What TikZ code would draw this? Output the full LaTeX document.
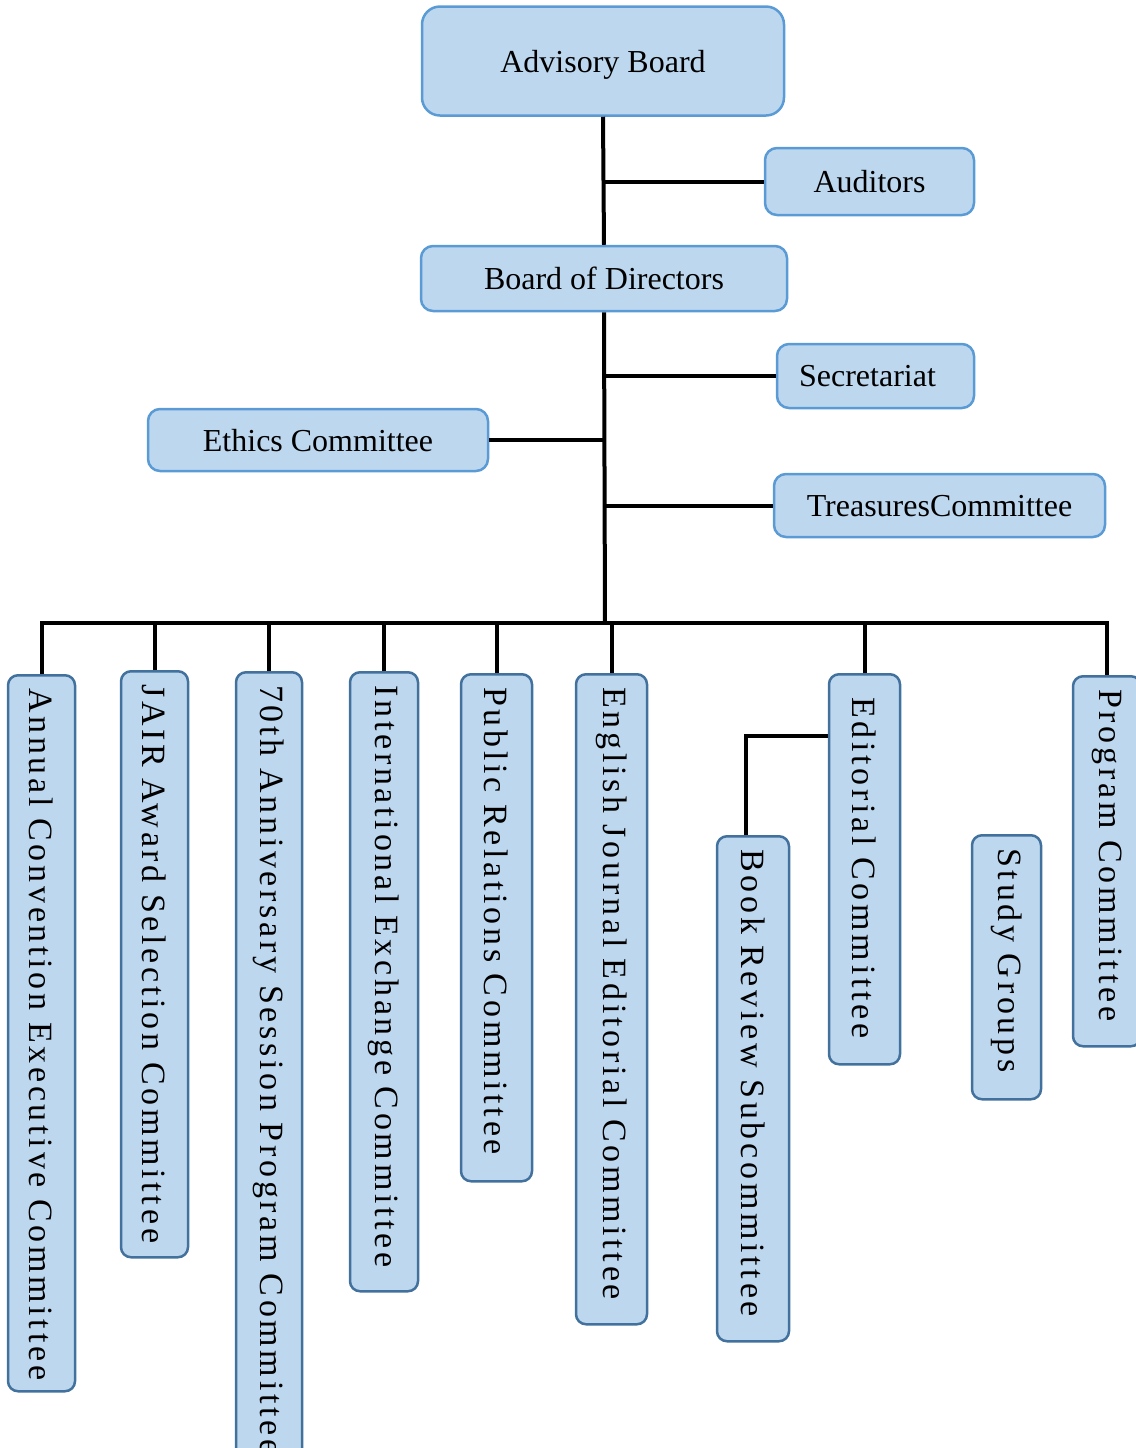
\documentclass[tikz,border=0pt]{standalone}
\usepackage{fontspec}
\setmainfont{Liberation Serif}
\newfontfamily\spacedserif[LetterSpace=11]{Liberation Serif}
\definecolor{boxfill}{HTML}{BDD7EE}
\definecolor{topline}{HTML}{5B9BD5}
\definecolor{sideline}{HTML}{41719C}

\begin{document}
\begin{tikzpicture}[
        x=0.5pt, y=-0.5pt,
        hbox/.style={draw=topline, fill=boxfill, line width=1.25pt, rounded corners=6pt, inner sep=0pt, text depth=0pt, font=\fontsize{16}{19}\selectfont},
        vbox/.style={draw=sideline, fill=boxfill, line width=1.25pt, rounded corners=5pt, rotate=-90, anchor=west, inner xsep=6.5pt, inner ysep=0pt, align=left, font=\spacedserif\fontsize{17}{20}\selectfont},
        link/.style={line width=2pt}
    ]
    \useasboundingbox (0,0) rectangle (1136,1448);

    % upper part
    \node[hbox, rounded corners=9pt, minimum width=181pt, minimum height=54.5pt] (adv) at (603,61) {Advisory Board};
    \node[hbox, minimum width=104.5pt, minimum height=33.5pt] (aud) at (869.5,181.5) {Auditors};
    \node[hbox, minimum width=183pt, minimum height=32.5pt] (bod) at (604,278.5) {Board of Directors};
    \node[hbox, minimum width=98.5pt, minimum height=32pt] (sec) at (875.5,376) {Secretariat\hspace*{8pt}};
    \node[hbox, minimum width=170pt, minimum height=31pt] (eth) at (318,440) {Ethics Committee};
    \node[hbox, minimum width=165.5pt, minimum height=31.5pt] (tre) at (939.5,505.5) {TreasuresCommittee};

    % committees
    \node[vbox, text width=345pt, minimum height=33.5pt] (annual) at (41.5,674) {Annual Convention Executive Committee};
    \node[vbox, text width=280pt, minimum height=33.5pt] (jair) at (154.5,670) {JAIR Award Selection Committee};
    \node[vbox, text width=400pt, minimum height=33pt] (anniv) at (269,671) {70th Anniversary Session Program Committee};
    \node[vbox, text width=296.5pt, minimum height=34pt] (intl) at (384,671) {International Exchange Committee};
    \node[vbox, text width=240.5pt, minimum height=35.5pt] (pr) at (496.5,673) {Public Relations Committee};
    \node[vbox, text width=312pt, minimum height=35.5pt] (eng) at (611.5,673) {English Journal Editorial Committee};
    \node[vbox, text width=182pt, minimum height=35.5pt] (edit) at (864.5,673) {\hspace*{5pt}Editorial Committee};
    \node[vbox, text width=239.5pt, minimum height=36pt] (book) at (753,835) {Book Review Subcommittee};
    \node[vbox, text width=119pt, minimum height=34.5pt] (study) at (1006.5,834) {Study Groups};
    \node[vbox, text width=172pt, minimum height=34pt] (prog) at (1107,675) {Program Committee};

    \coordinate (bus) at (605,623);
    \coordinate (bookrow) at (0,736);

    \draw[link] (adv.south) -- (bod.north);
    \draw[link] (aud.west) -- (aud.west -| adv.south);
    \draw[link] (bod.south) -- (bus);
    \draw[link] (sec.west) -- (sec.west -| bod.south);
    \draw[link] (eth.east) -- (eth.east -| bod.south);
    \draw[link] (tre.west) -- (tre.west -| bod.south);

    \draw[link] (annual.west) |- (bus) -| (prog.west);
    \foreach \n in {jair, anniv, intl, pr, eng, edit}
        \draw[link] (\n.west) -- (\n.west |- bus);
    \draw[link] (edit.south |- bookrow) -| ([xshift=-3.5pt]book.west);
\end{tikzpicture}
\end{document}
